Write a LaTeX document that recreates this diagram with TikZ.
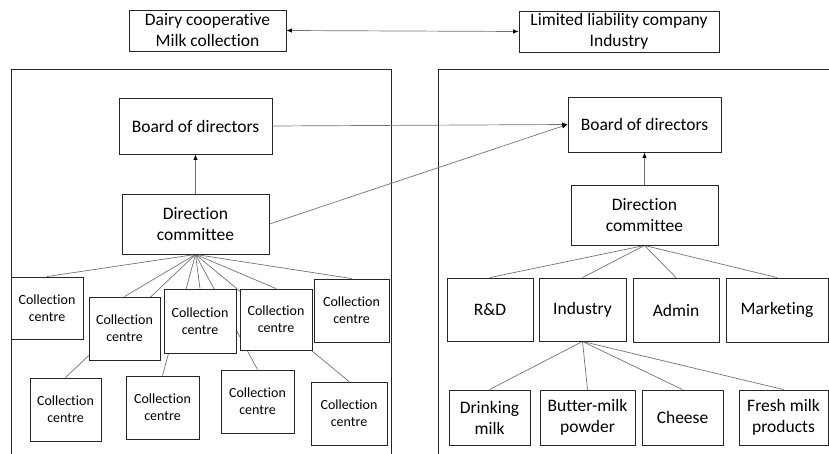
\documentclass[tikz,border=0pt]{standalone}
\usepackage{fontspec}
\setmainfont{Carlito}[Ligatures={NoCommon}]
\usetikzlibrary{arrows.meta,backgrounds}

\tikzset{
  box/.style={draw=black!85, line width=0.9pt, fill=white, align=center,
    inner sep=0pt, font=\fontsize{17.5}{21}\selectfont},
  ccbox/.style={box, font=\fontsize{14}{16.8}\selectfont},
  link/.style={draw=black!55, line width=0.7pt},
  arr/.style={link, -{Latex[length=5.5pt,width=4.5pt,black]}},
  biarr/.style={link, {Latex[length=5.5pt,width=4.5pt,black]}-{Latex[length=5.5pt,width=4.5pt,black]}},
  frame/.style={draw=black!85, line width=0.9pt}
}
% \bx{name}{cx}{cy}{w}{h}{style}{text}
\newcommand\bx[7]{\node[#6, minimum width=#4pt, minimum height=#5pt] (#1) at (#2,#3) {#7};}

\begin{document}
\begin{tikzpicture}[x=1pt,y=-1pt]
\useasboundingbox (0,0) rectangle (829,454);
\clip (0,0) rectangle (829,454);

% outer frames of the two organisations
\draw[frame] (11,470) -- (11,69) -- (391,69) -- (391,470);
\draw[frame] (438,470) -- (438,69) -- (860,69);

% top level
\bx{dairy}{207.5}{30.5}{157}{41}{box}{Dairy cooperative\\Milk collection}
\bx{llc}{619}{31.5}{200}{41}{box}{Limited liability company\\Industry}

% cooperative
\bx{bodL}{195.5}{126}{153}{56}{box}{Board of directors}
\bx{dcL}{195.5}{224}{147}{60}{box}{Direction\\committee}
\bx{cc1}{47}{308}{72}{62}{ccbox}{Collection\\centre}
\bx{cc2}{124.5}{328.5}{71}{63}{ccbox}{Collection\\centre}
\bx{cc3}{200}{321}{72}{64}{ccbox}{Collection\\centre}
\bx{cc4}{276}{319.5}{72}{61}{ccbox}{Collection\\centre}
\bx{cc5}{351.5}{310.5}{75}{63}{ccbox}{Collection\\centre}
\bx{cc6}{65.5}{409.5}{71}{63}{ccbox}{Collection\\centre}
\bx{cc7}{162.5}{407.5}{73}{63}{ccbox}{Collection\\centre}
\bx{cc8}{257.5}{401.5}{73}{63}{ccbox}{Collection\\centre}
\bx{cc9}{349}{413.5}{76}{63}{ccbox}{Collection\\centre}

% company
\bx{bodR}{644.5}{124.5}{153}{55}{box}{Board of directors}
\bx{dcR}{644.5}{215}{147}{60}{box}{Direction\\committee}
\bx{rd}{490}{309.5}{86}{63}{box}{R\&D}
\bx{ind}{582.5}{309.5}{87}{63}{box}{Industry}
\bx{adm}{676}{310}{86}{64}{box}{Admin}
\bx{mkt}{777}{310}{102}{64}{box}{Marketing}
\bx{dm}{489.5}{417.5}{81}{55}{box}{Drinking\\milk}
\bx{bmp}{587.5}{417.5}{95}{55}{box}{Butter-milk\\powder}
\bx{chs}{682.5}{417.5}{81}{55}{box}{Cheese}
\bx{fmp}{783.5}{417.5}{89}{55}{box}{Fresh milk\\products}

\begin{scope}[on background layer]
  \foreach \c in {cc1,cc2,cc3,cc4,cc5,cc6,cc7,cc8,cc9}
    \draw[link] (dcL.south) -- (\c.north);
  \foreach \c in {rd,ind,adm,mkt}
    \draw[link] (dcR.south) -- (\c.north);
  \foreach \c in {dm,bmp,chs,fmp}
    \draw[link] (ind.south) -- (\c.north);
\end{scope}

\draw[biarr] (dairy.east) -- (llc.west);
\draw[arr] (dcL.north) -- (bodL.south);
\draw[arr] (dcR.north) -- (bodR.south);
\draw[arr] (bodL.east) -- (bodR.west);
\draw[arr] (dcL.east) -- (bodR.west);
\end{tikzpicture}
\end{document}
